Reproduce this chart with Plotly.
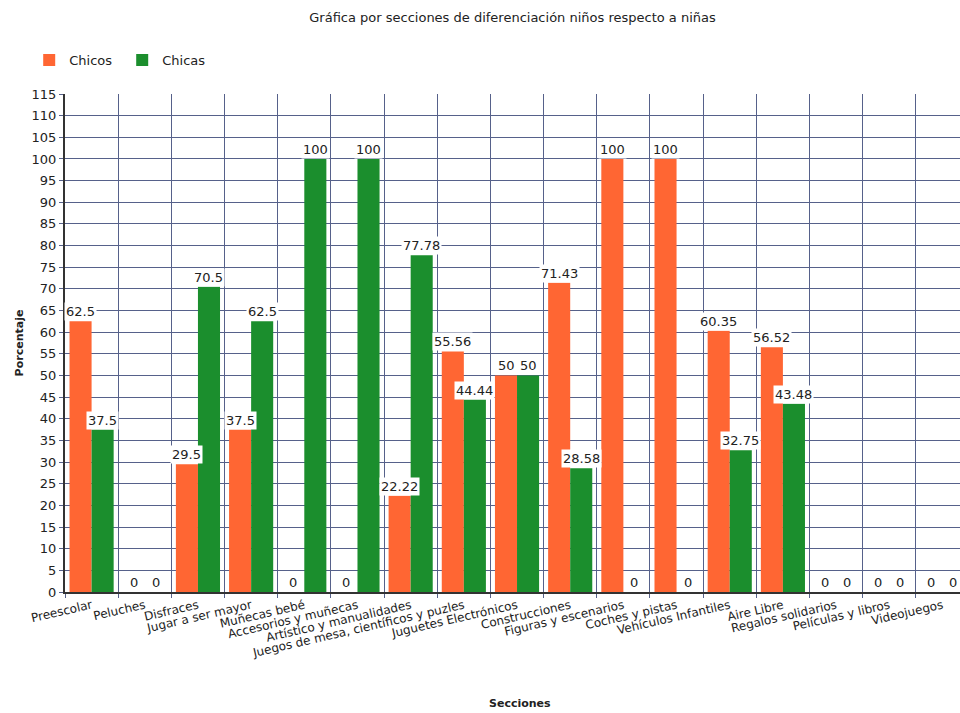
import plotly.graph_objects as go

categorias = ["Preescolar", "Peluches", "Disfraces", "Jugar a ser mayor", "Muñecas bebé",
              "Accesorios y muñecas", "Artístico y manualidades",
              "Juegos de mesa, científicos y puzles", "Juguetes Electrónicos",
              "Construcciones", "Figuras y escenarios", "Coches y pistas",
              "Vehículos Infantiles", "Aire Libre", "Regalos solidarios",
              "Películas y libros", "Videojuegos"]
chicos = [62.5, 0, 29.5, 37.5, 0, 0, 22.22, 55.56, 50, 71.43, 100, 100, 60.35, 56.52, 0, 0, 0]
chicas = [37.5, 0, 70.5, 62.5, 100, 100, 77.78, 44.44, 50, 28.58, 0, 0, 32.75, 43.48, 0, 0, 0]
y_ticks = list(range(0, 120, 5))

ORANGE = "#FF6633"
GREEN = "#1B8E2D"
GRID = "#56618a"
FONT = "DejaVu Sans"

fig = go.Figure()
fig.add_trace(go.Bar(name="Chicos", x=categorias, y=chicos, marker_color=ORANGE,
                     marker_line_width=0))
fig.add_trace(go.Bar(name="Chicas", x=categorias, y=chicas, marker_color=GREEN,
                     marker_line_width=0))

def fmt(v):
    return ("%g" % v)

ann = []
for cat, a, b in zip(categorias, chicos, chicas):
    for val, shift in ((a, -11), (b, 11)):
        ann.append(dict(x=cat, y=val, xref="x", yref="y", text=fmt(val), showarrow=False,
                        xshift=shift, yanchor="bottom", yshift=0, bgcolor="white",
                        borderpad=1, font=dict(family=FONT, size=13, color="#222")))
ann.append(dict(x=0.508, y=-0.24, xref="paper", yref="paper", text="<b>Secciones</b>",
                showarrow=False, font=dict(family=FONT, size=11, color="#222")))

fig.update_layout(
    width=960, height=713,
    margin=dict(l=65, r=0, t=94, b=121),
    plot_bgcolor="white", paper_bgcolor="white",
    barmode="group", bargap=0.17, bargroupgap=0,
    title=dict(text="Gráfica por secciones de diferenciación niños respecto a niñas",
               x=0.5, xref="paper", y=0.975, yanchor="middle",
               font=dict(family=FONT, size=13, color="#222")),
    legend=dict(orientation="h", x=-0.04, y=1.068, xanchor="left", yanchor="middle",
                font=dict(family=FONT, size=13, color="#222"),
                entrywidth=48, entrywidthmode="pixels", itemsizing="constant"),
    annotations=ann,
    font=dict(family=FONT, color="#222"),
)
fig.update_xaxes(type="category", range=[-0.5, 16.33], tickson="boundaries",
                 showgrid=True, gridcolor=GRID, gridwidth=1,
                 ticks="outside", ticklen=4, tickcolor=GRID,
                 tickangle=-13, tickfont=dict(family=FONT, size=12, color="#222"),
                 showline=True, linecolor="#333", linewidth=2)
fig.update_yaxes(range=[0, 115], tickvals=y_ticks, showgrid=True, gridcolor=GRID,
                 gridwidth=1, ticks="outside", ticklen=4, tickcolor=GRID,
                 tickfont=dict(family=FONT, size=13, color="#222"),
                 showline=True, linecolor="#333", linewidth=2, zeroline=False,
                 title=dict(text="<b>Porcentaje</b>", standoff=6,
                            font=dict(family=FONT, size=11, color="#222")))

fig.write_html("out.html")
